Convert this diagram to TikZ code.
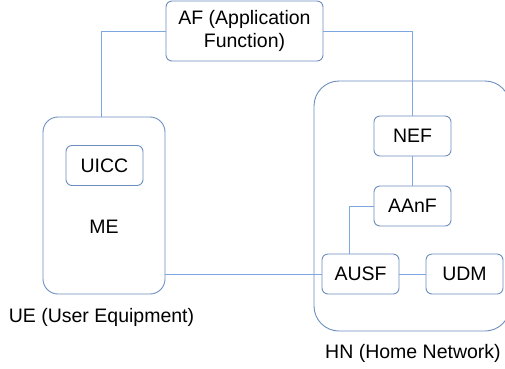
\documentclass[tikz,border=0pt]{standalone}
\usepackage{fontspec}
\setmainfont{Liberation Sans}
\definecolor{boxblue}{HTML}{6C8EBF}
\definecolor{linkblue}{HTML}{7EA6E0}
\tikzset{
	nf/.style={draw=boxblue, line width=0.9pt, rounded corners=6pt, minimum width=77pt, minimum height=40pt, inner sep=0pt},
	group/.style={draw=boxblue, line width=0.9pt, inner sep=0pt},
	link/.style={draw=linkblue, line width=0.9pt}
}
\begin{document}
\begin{tikzpicture}[x=1pt, y=-1pt, font=\fontsize{19.5}{23.5}\selectfont]
	\clip (0,0) rectangle (505,368);
	\useasboundingbox (0,0) rectangle (505,368);
	% outer boxes
	\node[group, rounded corners=15pt, minimum width=122pt, minimum height=177pt](ue) at (104,205.5){};
	\node[group, rounded corners=25pt, minimum width=196pt, minimum height=250pt](hn) at (412,206){};
	\node(uelabel) at (101.5,317){UE (User Equipment)};
	\node(hnlabel) at (413,353){HN (Home Network)};
	% functions
	\node[nf, minimum width=157pt, minimum height=60pt, align=center](af) at (244.5,31){AF (Application\\Function)};
	\node[nf](uicc) at (104.5,165.5){UICC};
	\node(me) at (104,227){ME};
	\node[nf](nef) at (412.5,136){NEF};
	\node[nf](aanf) at (412.5,206){AAnF};
	\node[nf](ausf) at (360.5,274){AUSF};
	\node[nf](udm) at (464.5,274){UDM};
	% links
	\draw[link] (af.west) -| ([xshift=-3pt]ue.north);
	\draw[link] (af.east) -| (nef.north);
	\draw[link] (nef.south) -- (aanf.north);
	\draw[link] (aanf.west) -| ([xshift=-11pt]ausf.north);
	\draw[link] (ue.east |- ausf.west) -- (ausf.west);
	\draw[link] (ausf.east) -- (udm.west);
\end{tikzpicture}
\end{document}
